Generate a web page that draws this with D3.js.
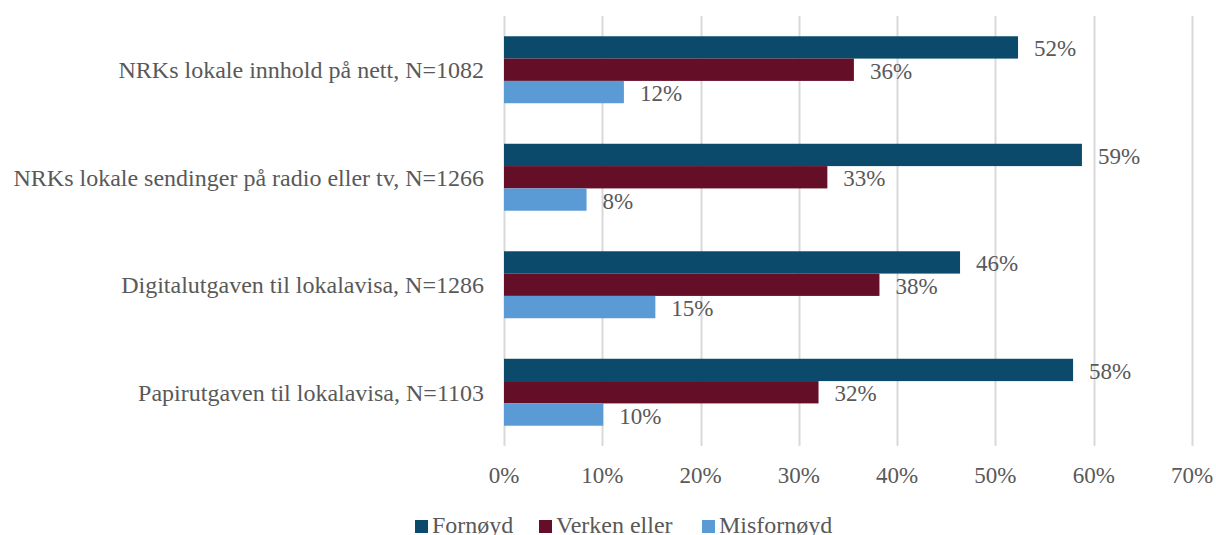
<!DOCTYPE html>
<html><head><meta charset="utf-8">
<script src="https://cdn.jsdelivr.net/npm/d3@7"></script>
<style>
body{margin:0;background:#fff;}
text{font-family:"Liberation Serif","Times New Roman",serif;fill:#595959;}
</style></head><body>
<svg id="c" width="1216" height="535"></svg>
<script>
const categories = ["NRKs lokale innhold på nett, N=1082","NRKs lokale sendinger på radio eller tv, N=1266","Digitalutgaven til lokalavisa, N=1286","Papirutgaven til lokalavisa, N=1103"];
const seriesNames = ["Fornøyd","Verken eller","Misfornøyd"];
const fornoyd = [0.523,0.588,0.464,0.579];
const verken = [0.356,0.329,0.382,0.320];
const misfornoyd = [0.122,0.084,0.154,0.101];
const tickValues = [0,0.1,0.2,0.3,0.4,0.5,0.6,0.7];
const colors = ["#0B4A6A","#640E27","#5B9BD5"];

const series = [fornoyd, verken, misfornoyd];
const svg = d3.select("#c");
const x = d3.scaleLinear().domain([0,0.7]).range([504,1192]);
const y = d3.scaleBand().domain(categories).range([16,446]).paddingInner(0.377).paddingOuter(0.1885);
const y1 = d3.scaleBand().domain(seriesNames).range([0,y.bandwidth()]);
const fs = "23px";

// gridlines
svg.append("g").selectAll("line").data(tickValues).join("line")
  .attr("x1",d=>Math.round(x(d))+0.5).attr("x2",d=>Math.round(x(d))+0.5)
  .attr("y1",16).attr("y2",446).attr("stroke","#d9d9d9").attr("stroke-width",2);

// x tick labels
svg.append("g").selectAll("text").data(tickValues).join("text")
  .attr("x",d=>x(d)).attr("y",483).attr("text-anchor","middle")
  .attr("font-size",fs).text(d=>d3.format(".0%")(d));

// category labels
svg.append("g").selectAll("text").data(categories).join("text")
  .attr("x",484).attr("y",d=>y(d)+y.bandwidth()/2).attr("dy","0.35em")
  .attr("text-anchor","end").attr("font-size","24px").text(d=>d);

// bars
const g = svg.append("g");
seriesNames.forEach((s,si)=>{
  categories.forEach((c,ci)=>{
    const v = series[si][ci];
    g.append("rect").attr("x",x(0)).attr("y",y(c)+y1(s))
      .attr("width",x(v)-x(0)).attr("height",y1.bandwidth()).attr("fill",colors[si]);
    g.append("text").attr("x",x(v)+16).attr("y",y(c)+y1(s)+y1.bandwidth()/2+1).attr("dy","0.35em")
      .attr("font-size",fs).text(Math.round(v*100)+"%");
  });
});

// legend
const legX = [415,539,702];
const lg = svg.append("g");
seriesNames.forEach((s,i)=>{
  lg.append("rect").attr("x",legX[i]).attr("y",520).attr("width",13).attr("height",13).attr("fill",colors[i]);
  lg.append("text").attr("x",legX[i]+17).attr("y",533).attr("font-size","24px").text(s);
});
</script></body></html>
